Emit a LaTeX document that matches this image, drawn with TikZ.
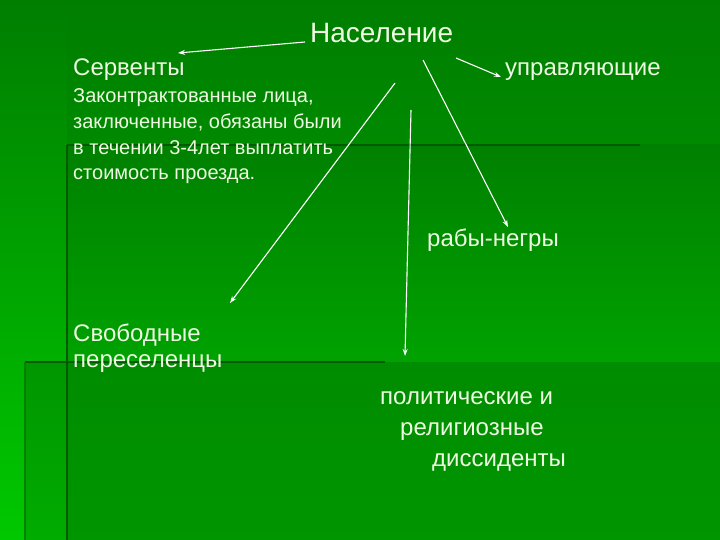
\documentclass[tikz,border=0pt]{standalone}
\usepackage{fontspec}
\setmainfont{Liberation Sans}
\usetikzlibrary{arrows.meta}
\definecolor{txt}{RGB}{238,250,226}
\definecolor{bgtop}{RGB}{0,126,0}
\definecolor{bgbot}{RGB}{0,200,0}
\definecolor{darkln}{RGB}{0,90,0}
\tikzset{
  lbl/.style={text=txt, inner sep=0pt, anchor=base west, align=left},
  conn/.style={draw=white, line width=1.1pt, -{Stealth[length=7pt,width=5pt]}},
  rule/.style={draw=darkln, line width=2.5pt},
}
\begin{document}
\begin{tikzpicture}[x=1pt,y=-1pt]
\useasboundingbox (0,0) rectangle (720,540);
% background
\shade[top color=bgtop, bottom color=bgbot] (0,0) rectangle (720,540);
\shade[top color=bgtop, bottom color={rgb,255:red,0;green,138;blue,0}] (67,0) rectangle (720,145);
\shade[top color={rgb,255:red,0;green,128;blue,0}, bottom color={rgb,255:red,0;green,162;blue,0}] (67,145) rectangle (720,362);
\shade[top color={rgb,255:red,0;green,150;blue,0}, bottom color={rgb,255:red,0;green,172;blue,0}] (25,362) rectangle (67,540);
\shade[top color={rgb,255:red,0;green,140;blue,0}, bottom color={rgb,255:red,0;green,150;blue,0}] (67,362) rectangle (720,540);
\draw[rule] (67,145) -- (640,145);
\draw[draw=darkln, line width=2pt] (67,145) -- (67,540);
\draw[rule] (25,362) -- (385,362);
\draw[draw={rgb,255:red,0;green,130;blue,0}, line width=1.5pt] (25,362) -- (25,540);

% texts (base anchor = baseline of the last line)
\node[lbl, font=\fontsize{28}{32}\selectfont] (nas) at (310,43) {Население};
\node[lbl, font=\fontsize{24}{28}\selectfont] (serv) at (73,76) {Сервенты};
\node[lbl, font=\fontsize{24}{28}\selectfont] (upr) at (505,76) {управляющие};
\node[lbl, font=\fontsize{20}{25.7}\selectfont] (zak) at (73,180)
  {Законтрактованные лица,\\заключенные, обязаны были\\в течении 3-4лет выплатить\\стоимость проезда.};
\node[lbl, font=\fontsize{24}{28}\selectfont] (rab) at (427,246) {рабы-негры};
\node[lbl, font=\fontsize{24}{26}\selectfont] (svob) at (73,367) {Свободные\\переселенцы};
\node[lbl, font=\fontsize{24}{31}\selectfont] (pol) at (380,466)
  {политические и\\\hspace*{20pt}религиозные\\\hspace*{52pt}диссиденты};

% connector end points
\coordinate (a1s) at (305,42);  \coordinate (a1e) at (178,53);
\coordinate (a2s) at (456,58);  \coordinate (a2e) at (501,77);
\coordinate (a3s) at (423,60);  \coordinate (a3e) at (508,227);
\coordinate (a4s) at (395,83);  \coordinate (a4e) at (230,303);
\coordinate (a5s) at (411,110); \coordinate (a5e) at (405,356);

\draw[conn] (a1s) -- (a1e);
\draw[conn] (a2s) -- (a2e);
\draw[conn] (a3s) -- (a3e);
\draw[conn] (a4s) -- (a4e);
\draw[conn] (a5s) -- (a5e);
\end{tikzpicture}
\end{document}
